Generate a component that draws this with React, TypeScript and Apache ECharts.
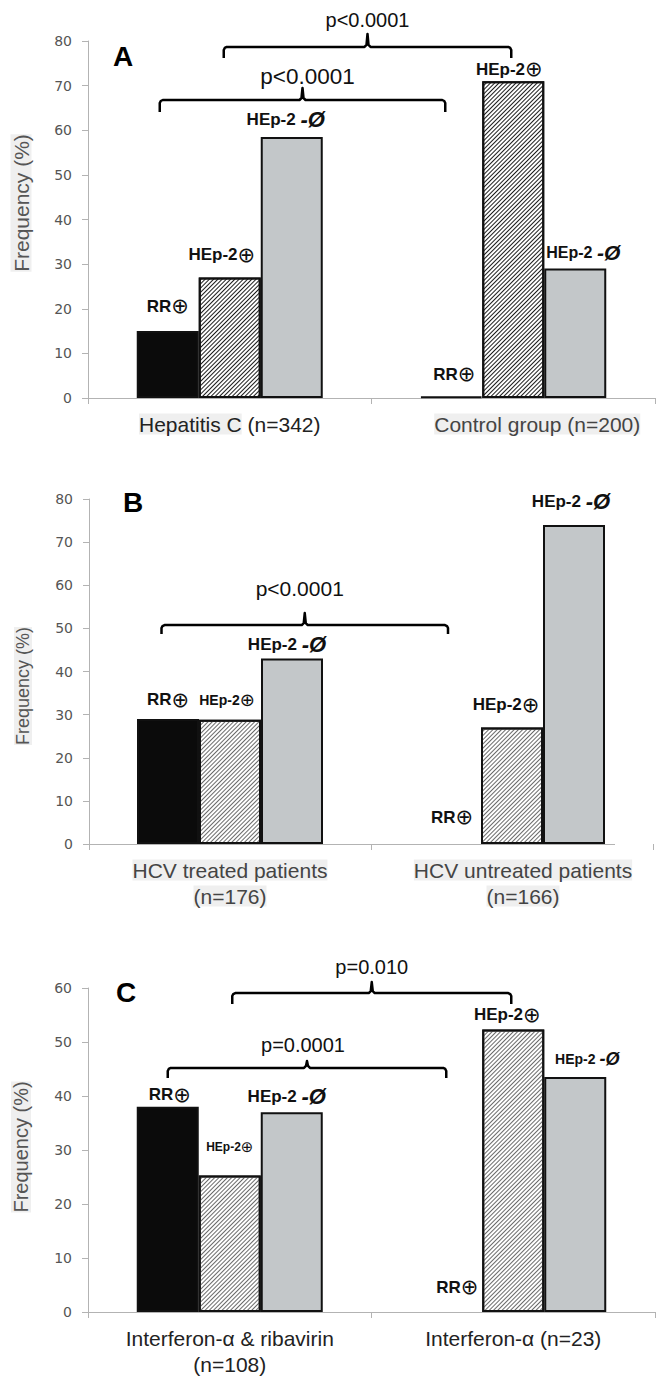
import React, { useEffect, useRef } from 'react';
import * as echarts from 'echarts';

// ---------------- DATA ----------------
const groupsA = ['Hepatitis C (n=342)', 'Control group (n=200)'];
const rrA = [15, 0.3];
const hepPosA = [27, 71];
const hepNegA = [58.5, 29];

const groupsB = ['HCV treated patients\n(n=176)', 'HCV untreated patients\n(n=166)'];
const rrB = [29, 0];
const hepPosB = [28.8, 27];
const hepNegB = [43, 74];

const groupsC = ['Interferon-α & ribavirin\n(n=108)', 'Interferon-α (n=23)'];
const rrC = [38, 0];
const hepPosC = [25.3, 52.3];
const hepNegC = [37, 43.5];

const yMaxes = [80, 80, 60];
const yInterval = 10;
const panelLetters = ['A', 'B', 'C'];
const yAxisTitle = 'Frequency (%)';
const barNames = ['RR⊕', 'HEp-2⊕', 'HEp-2 -Ø'];

const pValuesA = ['p<0.0001', 'p<0.0001'];
const pValuesB = ['p<0.0001'];
const pValuesC = ['p=0.010', 'p=0.0001'];

// ---------------- LAYOUT / STYLE ----------------
const BAR_W = 62;
const grids = [
  { left: 88, top: 41, width: 567, height: 357 },
  { left: 89, top: 499, width: 564, height: 345 },
  { left: 88, top: 988, width: 567, height: 324 },
];

type LabelSpec = { gap: number; dx: number; fs?: number };
const labelLayout: LabelSpec[][][] = [
  [
    [{ gap: 25, dx: 0 }, { gap: 22, dx: 3 }],
    [{ gap: 23, dx: -8 }, { gap: 12, dx: -4 }],
    [{ gap: 17, dx: -6 }, { gap: 16, dx: 8, fs: 16 }],
  ],
  [
    [{ gap: 19, dx: 0 }, { gap: 27, dx: 2 }],
    [{ gap: 20, dx: -3, fs: 14 }, { gap: 23, dx: -6 }],
    [{ gap: 14, dx: -5 }, { gap: 23, dx: -3 }],
  ],
  [
    [{ gap: 12, dx: 2 }, { gap: 25, dx: 6 }],
    [{ gap: 28, dx: 0, fs: 12 }, { gap: 15, dx: -6 }],
    [{ gap: 16, dx: -5 }, { gap: 18, dx: 12, fs: 14 }],
  ],
];

type Bracket = {
  series: number; y: number; dxL: number; dxR: number; hook: number; tick: number;
  textIdx: number; fs: number; tdx: number; tdy: number;
};
const bracketLayout: Bracket[][] = [
  [
    { series: 1, y: 78.66, dxL: -6, dxR: -2, hook: 11, tick: 13, textIdx: 0, fs: 20, tdx: 0, tdy: -27 },
    { series: 0, y: 66.78, dxL: -8, dxR: -6, hook: 12, tick: 12, textIdx: 1, fs: 22.5, tdx: 5, tdy: -23 },
  ],
  [
    { series: 0, y: 50.78, dxL: -6.5, dxR: -2, hook: 9, tick: 12, textIdx: 0, fs: 21, tdx: -5, tdy: -37 },
  ],
  [
    { series: 1, y: 59.07, dxL: 2.5, dxR: -2, hook: 11, tick: 11, textIdx: 0, fs: 20, tdx: 0, tdy: -26 },
    { series: 0, y: 45.19, dxL: 0, dxR: -5, hook: 10, tick: 7, textIdx: 1, fs: 20, tdx: -4, tdy: -23 },
  ],
];

const letterPos = [
  { x: 123, y: 56 },
  { x: 133, y: 502 },
  { x: 126, y: 992 },
];
const yTitlePos = [
  { x: 21, y: 203, fs: 21 },
  { x: 23, y: 686, fs: 18 },
  { x: 21, y: 1147, fs: 20 },
];

const catStyles = [
  { color: ['#222', '#444'], grey: [11, 999], shift: [0, 48], bg: true },
  { color: ['#444', '#444'], grey: [999, 999], shift: [0, 22], bg: true },
  { color: ['#222', '#222'], grey: [0, 0], shift: [0, 0], bg: false },
];

const hatchColors = ['#1c1c1c', '#6a6a6a', '#6a6a6a'];
const hatchLine = [1, 0.8, 0.8];
const hatchGap = [1.8, 1.8, 1.8];
const AXIS_COLOR = '#b3b3b3';
const LABEL_FONT = "'Liberation Sans', Arial, sans-serif";
const CAT_FS = 21;

const panels = [
  { cats: groupsA, values: [rrA, hepPosA, hepNegA], p: pValuesA },
  { cats: groupsB, values: [rrB, hepPosB, hepNegB], p: pValuesB },
  { cats: groupsC, values: [rrC, hepPosC, hepNegC], p: pValuesC },
];

function labelText(k: number) {
  if (k === 0) return '{b|RR}{c|⊕}';
  if (k === 1) return '{b|HEp-2}{c|⊕}';
  return '{b|HEp-2 }{d|-Ø}';
}

function buildOption() {
  const xAxis: any[] = [];
  const yAxis: any[] = [];
  const series: any[] = [];
  panels.forEach((p, pi) => {
    const cs = catStyles[pi];
    const txt = (c: string, bg: boolean) => ({
      fontFamily: LABEL_FONT,
      fontSize: CAT_FS,
      lineHeight: 26,
      color: c,
      backgroundColor: bg ? '#efefef' : 'transparent',
    });
    xAxis.push({
      type: 'category',
      gridIndex: pi,
      data: p.cats,
      axisLine: { show: pi !== 1, lineStyle: { color: AXIS_COLOR, width: 1 } },
      axisTick: { show: true, length: 6, lineStyle: { color: AXIS_COLOR } },
      axisLabel: {
        margin: 13,
        interval: 0,
        formatter: (val: string, idx: number) => {
          const lines = val.split('\n');
          const g = cs.grey[idx];
          const sp = cs.shift[idx];
          return lines
            .map((ln, li) => {
              const pre = sp ? `{sp${idx}| }` : '';
              let body = '';
              if (!cs.bg) body = `{w${idx}|${ln}}`;
              else if (li === 0 && g < ln.length) body = `{g${idx}|${ln.slice(0, g)}}{w${idx}|${ln.slice(g)}}`;
              else body = `{g${idx}|${ln}}`;
              return pre + body;
            })
            .join('\n');
        },
        rich: {
          sp0: { width: cs.shift[0], fontSize: CAT_FS },
          sp1: { width: cs.shift[1], fontSize: CAT_FS },
          g0: txt(cs.color[0], true),
          w0: txt(cs.color[0], false),
          g1: txt(cs.color[1], true),
          w1: txt(cs.color[1], false),
        },
      },
      splitLine: { show: false },
    });
    yAxis.push({
      type: 'value',
      gridIndex: pi,
      min: 0,
      max: yMaxes[pi],
      interval: yInterval,
      axisLine: { show: true, lineStyle: { color: AXIS_COLOR } },
      axisTick: { show: true, length: 6, lineStyle: { color: AXIS_COLOR } },
      axisLabel: { margin: 16, fontFamily: "'DejaVu Sans', Verdana, sans-serif", fontSize: 14, color: '#555' },
      splitLine: { show: false },
    });
    p.values.forEach((vals, k) => {
      const itemBase: any = {
        borderColor: '#111',
        borderWidth: 2,
      };
      if (k === 0) itemBase.color = '#0b0b0b';
      if (k === 1) {
        itemBase.color = '#ffffff';
        itemBase.decal = {
          symbol: 'rect',
          symbolSize: 1,
          dashArrayX: [1, 0],
          dashArrayY: [hatchLine[pi], hatchGap[pi]],
          rotation: -Math.PI / 4,
          color: hatchColors[pi],
        };
      }
      if (k === 2) itemBase.color = '#c3c7c9';
      series.push({
        type: 'bar',
        name: barNames[k],
        xAxisIndex: pi,
        yAxisIndex: pi,
        barWidth: BAR_W,
        barGap: '0%',
        itemStyle: itemBase,
        data: vals.map((v, j) => {
          const spec = labelLayout[pi][k][j];
          const fs = spec.fs ?? 17;
          return {
            value: v,
            itemStyle: v === 0 ? { borderWidth: 0 } : undefined,
            label: {
              show: true,
              position: 'top',
              distance: spec.gap,
              verticalAlign: 'middle',
              align: 'center',
              offset: [spec.dx, 0],
              formatter: labelText(k),
              rich: {
                b: { fontFamily: LABEL_FONT, fontWeight: 'bold', fontSize: fs, color: '#111' },
                c: { fontFamily: "'DejaVu Sans', sans-serif", fontSize: Math.round(fs * 1.25), color: '#111' },
                d: { fontFamily: LABEL_FONT, fontWeight: 'bold', fontStyle: 'italic', fontSize: Math.round(fs * 1.3), color: '#111' },
              },
            },
          };
        }),
      });
    });
  });
  return {
    animation: false,
    backgroundColor: '#ffffff',
    grid: grids.map((g) => ({ ...g, containLabel: false })),
    xAxis,
    yAxis,
    series,
  };
}

function buildGraphics(chart: any) {
  const els: any[] = [];
  panels.forEach((p, pi) => {
    els.push({
      type: 'text',
      x: letterPos[pi].x,
      y: letterPos[pi].y,
      style: {
        text: panelLetters[pi],
        fontFamily: LABEL_FONT,
        fontWeight: 'bold',
        fontSize: 28,
        fill: '#000',
        align: 'center',
        verticalAlign: 'middle',
      },
    });
    els.push({
      type: 'text',
      x: yTitlePos[pi].x,
      y: yTitlePos[pi].y,
      rotation: Math.PI / 2,
      style: {
        text: yAxisTitle,
        fontFamily: LABEL_FONT,
        fontSize: yTitlePos[pi].fs,
        fill: '#555',
        align: 'center',
        verticalAlign: 'middle',
        backgroundColor: '#efefef',
      },
    });
    if (pi === 1) {
      const a = chart.convertToPixel({ gridIndex: pi }, [0, 0]);
      const gl = grids[pi].left;
      els.push({
        type: 'line',
        shape: { x1: gl, y1: a[1] + 0.5, x2: 615, y2: a[1] + 0.5 },
        style: { stroke: AXIS_COLOR, lineWidth: 1 },
      });
    }
    bracketLayout[pi].forEach((b) => {
      const off = (b.series - 1) * BAR_W;
      const c0 = chart.convertToPixel({ gridIndex: pi }, [0, b.y]);
      const c1 = chart.convertToPixel({ gridIndex: pi }, [1, b.y]);
      const x1 = c0[0] + off + b.dxL;
      const x2 = c1[0] + off + b.dxR;
      const y = c0[1];
      const xm = (x1 + x2) / 2;
      els.push({
        type: 'polyline',
        shape: {
          points: [
            [x1, y + b.hook],
            [x1, y + 3],
            [x1 + 1, y + 1],
            [x1 + 3, y],
            [xm - 3, y],
            [xm - 1, y - 2],
            [xm, y - b.tick],
            [xm + 1, y - 2],
            [xm + 3, y],
            [x2 - 3, y],
            [x2 - 1, y + 1],
            [x2, y + 3],
            [x2, y + b.hook],
          ],
        },
        style: { stroke: '#000', lineWidth: 2.5, fill: null, lineJoin: 'round' },
      });
      els.push({
        type: 'text',
        x: xm + b.tdx,
        y: y + b.tdy,
        style: {
          text: p.p[b.textIdx],
          fontFamily: LABEL_FONT,
          fontSize: b.fs,
          fill: '#111',
          align: 'center',
          verticalAlign: 'middle',
        },
      });
    });
  });
  return els;
}

export default function App() {
  const ref = useRef<HTMLDivElement>(null);
  useEffect(() => {
    if (!ref.current) return;
    const chart = echarts.init(ref.current, null, { renderer: 'svg' });
    chart.setOption(buildOption() as any);
    chart.setOption({ graphic: buildGraphics(chart) } as any);
    return () => chart.dispose();
  }, []);
  return (
    <div
      ref={ref}
      style={{ position: 'absolute', left: 0, top: 0, width: 664, height: 1381, background: '#fff' }}
    />
  );
}
